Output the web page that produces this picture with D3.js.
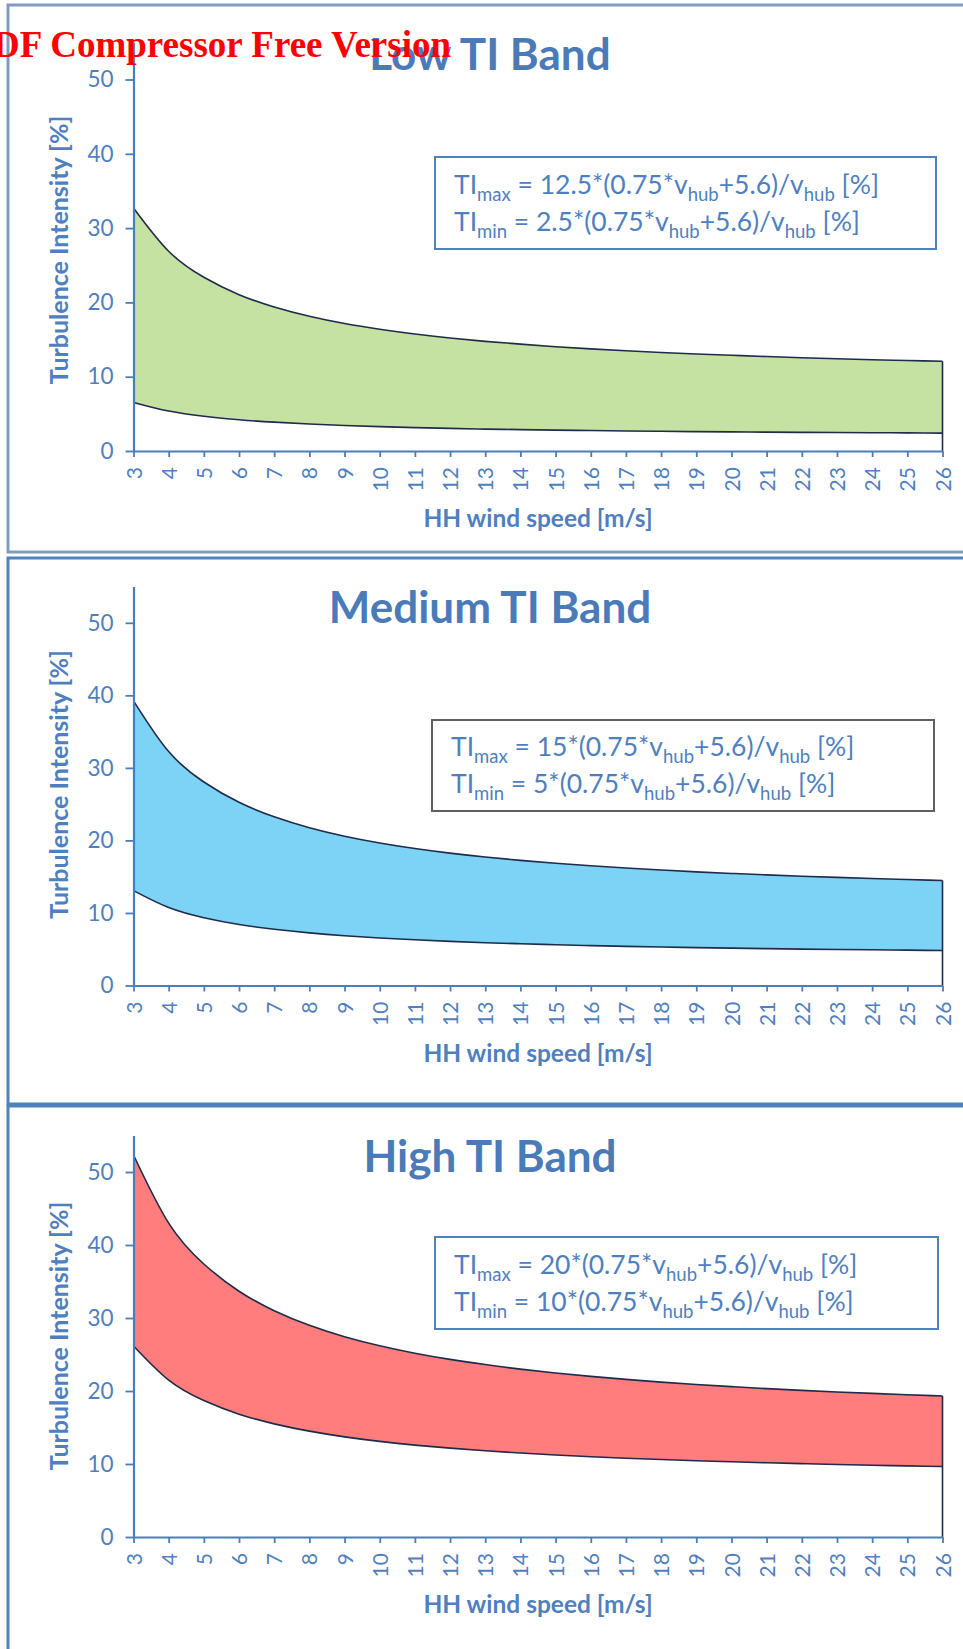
<!DOCTYPE html>
<html>
<head>
<meta charset="utf-8">
<script src="https://cdn.jsdelivr.net/npm/d3@7/dist/d3.min.js"></script>
<style>
body { margin: 0; background: #fff; }
</style>
</head>
<body>
<script>
// data
var windSpeed = [3, 4, 5, 6, 7, 8, 9, 10, 11, 12, 13, 14, 15, 16, 17, 18, 19, 20, 21, 22, 23, 24, 25, 26];
var lowMax = [32.71, 26.88, 23.38, 21.04, 19.38, 18.13, 17.15, 16.38, 15.74, 15.21, 14.76, 14.38, 14.04, 13.75, 13.49, 13.26, 13.06, 12.88, 12.71, 12.56, 12.42, 12.29, 12.18, 12.07];
var lowMin = [6.54, 5.38, 4.68, 4.21, 3.88, 3.63, 3.43, 3.28, 3.15, 3.04, 2.95, 2.88, 2.81, 2.75, 2.70, 2.65, 2.61, 2.58, 2.54, 2.51, 2.48, 2.46, 2.44, 2.41];
var medMax = [39.25, 32.25, 28.05, 25.25, 23.25, 21.75, 20.58, 19.65, 18.89, 18.25, 17.71, 17.25, 16.85, 16.50, 16.19, 15.92, 15.67, 15.45, 15.25, 15.07, 14.90, 14.75, 14.61, 14.48];
var medMin = [13.08, 10.75, 9.35, 8.42, 7.75, 7.25, 6.86, 6.55, 6.30, 6.08, 5.90, 5.75, 5.62, 5.50, 5.40, 5.31, 5.22, 5.15, 5.08, 5.02, 4.97, 4.92, 4.87, 4.83];
var highMax = [52.33, 43.0, 37.4, 33.67, 31.0, 29.0, 27.44, 26.2, 25.18, 24.33, 23.62, 23.0, 22.47, 22.0, 21.59, 21.22, 20.89, 20.6, 20.33, 20.09, 19.87, 19.67, 19.48, 19.31];
var highMin = [26.17, 21.5, 18.7, 16.83, 15.5, 14.5, 13.72, 13.1, 12.59, 12.17, 11.81, 11.5, 11.23, 11.0, 10.79, 10.61, 10.45, 10.3, 10.17, 10.05, 9.93, 9.83, 9.74, 9.65];
var yTicks = [0, 10, 20, 30, 40, 50];
var titles = ['Low TI Band', 'Medium TI Band', 'High TI Band'];
var maxFactors = ['12.5', '15', '20'];
var minFactors = ['2.5', '5', '10'];

var maxSeries = [lowMax, medMax, highMax];
var minSeries = [lowMin, medMin, highMin];
var fills = ['#c6e2a2', '#7dd3f5', '#ff7d7d'];
var boxStroke = ['#4f81bd', '#5f5f5f', '#4f81bd'];

width = 963;
height = 1649;

var font = 'Lato, sans-serif';
var blue = '#4a7ebb';
var textBlue = '#4f7fbf';
var dark = '#1e2b4a';

svg = d3.select('body')
    .append('svg')
    .attr('width', width)
    .attr('height', height)
    .style('font-family', font)

// panel placement
var layout = [
    {top: 5, bottom: 552, y0: 451, unit: 7.43, title: 70, box: [435, 157, 501, 92], line1: 194},
    {top: 558, bottom: 1104, y0: 985.5, unit: 7.254, title: 623, box: [432, 720, 502, 91], line1: 756},
    {top: 1106, bottom: 1680, y0: 1537, unit: 7.30, title: 1172, box: [435, 1237, 503, 92], line1: 1274}
]

var xScale = d3.scaleLinear()
    .domain([3, 26])
    .range([133.5, 942.5])

function formula(g, x, y, name, factor) {
    var t = g.append('text')
        .attr('x', x)
        .attr('y', y)
        .attr('font-size', 26.5)
        .attr('fill', textBlue)
    var parts = [['TI', 0], [name, 1], [' = ' + factor + '*(0.75*v', 0], ['hub', 1], ['+5.6)/v', 0], ['hub', 1], [' [%]', 0]]
    var prev = 0
    parts.forEach(function(p) {
        t.append('tspan')
            .text(p[0])
            .attr('dy', p[1] ? 7 : (prev ? -7 : 0))
            .attr('font-size', p[1] ? 18.5 : 26.5)
        prev = p[1]
    })
}

layout.forEach(function(L, i) {
    var g = svg.append('g')

    var yScale = d3.scaleLinear()
        .domain([0, 55])
        .range([L.y0, L.y0 - 55 * L.unit])

    var data = windSpeed.map(function(v, j) {
        return {v: v, lo: minSeries[i][j], hi: maxSeries[i][j]}
    })

    //frame
    g.append('rect')
        .attr('x', 8)
        .attr('y', L.top)
        .attr('width', 980)
        .attr('height', L.bottom - L.top)
        .attr('fill', 'none')
        .attr('stroke', i == 0 ? '#7f9cc0' : '#4f81bd')
        .attr('stroke-width', 3)

    //band
    g.append('path')
        .datum(data)
        .attr('fill', fills[i])
        .attr('d', d3.area()
            .x(d => xScale(d.v))
            .y0(d => yScale(d.lo))
            .y1(d => yScale(d.hi))
            .curve(d3.curveNatural))

    g.append('path')
        .datum(data)
        .attr('fill', 'none')
        .attr('stroke', dark)
        .attr('stroke-width', 1.6)
        .attr('d', d3.line()
            .x(d => xScale(d.v))
            .y(d => yScale(d.hi))
            .curve(d3.curveNatural))

    g.append('path')
        .datum(data)
        .attr('fill', 'none')
        .attr('stroke', dark)
        .attr('stroke-width', 1.6)
        .attr('d', d3.line()
            .x(d => xScale(d.v))
            .y(d => yScale(d.lo))
            .curve(d3.curveNatural))

    var last = data[data.length - 1]
    g.append('path')
        .datum([{v: last.v, y: last.hi}, {v: last.v, y: 0}])
        .attr('fill', 'none')
        .attr('stroke', dark)
        .attr('stroke-width', 1.6)
        .attr('d', d3.line()
            .x(d => xScale(d.v))
            .y(d => yScale(d.y)))

    //axis
    var xa = g.append('g')
        .attr('transform', 'translate(0,' + L.y0 + ')')
        .call(d3.axisBottom(xScale).tickValues(windSpeed).tickSize(6).tickSizeOuter(0))
    xa.select('.domain').attr('stroke', blue).attr('stroke-width', 2.2)
    xa.selectAll('.tick line').attr('stroke', blue).attr('stroke-width', 1.8)
    xa.selectAll('.tick text')
        .attr('transform', 'rotate(-90)')
        .attr('text-anchor', 'end')
        .attr('x', -16)
        .attr('y', 0)
        .attr('dy', '0.36em')
        .attr('font-family', font)
        .attr('font-size', 21)
        .attr('fill', textBlue)

    var ya = g.append('g')
        .attr('transform', 'translate(' + xScale(3) + ',0)')
        .call(d3.axisLeft(yScale).tickValues(yTicks).tickSize(8).tickPadding(12).tickSizeOuter(0))
    ya.select('.domain').attr('stroke', blue).attr('stroke-width', 2.2)
    ya.selectAll('.tick line').attr('stroke', blue).attr('stroke-width', 1.8)
    ya.selectAll('.tick text')
        .attr('font-family', font)
        .attr('font-size', 22.5)
        .attr('fill', textBlue)

    //titles
    g.append('text')
        .text(titles[i])
        .attr('x', 490)
        .attr('y', L.title)
        .attr('text-anchor', 'middle')
        .attr('font-size', 44)
        .attr('font-weight', 'bold')
        .attr('fill', '#4a7ab8')

    g.append('text')
        .text('HH wind speed [m/s]')
        .attr('x', 538)
        .attr('y', L.y0 + 76)
        .attr('text-anchor', 'middle')
        .attr('font-size', 24.5)
        .attr('font-weight', 'bold')
        .attr('fill', textBlue)

    g.append('text')
        .text('Turbulence Intensity [%]')
        .attr('transform', 'translate(68,' + (L.y0 - 201) + ') rotate(-90)')
        .attr('text-anchor', 'middle')
        .attr('font-size', 25)
        .attr('font-weight', 'bold')
        .attr('fill', textBlue)

    //formula box
    g.append('rect')
        .attr('x', L.box[0])
        .attr('y', L.box[1])
        .attr('width', L.box[2])
        .attr('height', L.box[3])
        .attr('fill', 'white')
        .attr('stroke', boxStroke[i])
        .attr('stroke-width', 2)

    formula(g, L.box[0] + 19, L.line1, 'max', maxFactors[i])
    formula(g, L.box[0] + 19, L.line1 + 37, 'min', minFactors[i])
})

// watermark
svg.append('text')
    .text('PDF Compressor Free Version')
    .attr('x', 451)
    .attr('y', 57)
    .attr('text-anchor', 'end')
    .style('font-family', "'Liberation Serif', serif")
    .attr('font-weight', 'bold')
    .attr('font-size', 37)
    .attr('fill', '#ff0000')
</script>
</body>
</html>
